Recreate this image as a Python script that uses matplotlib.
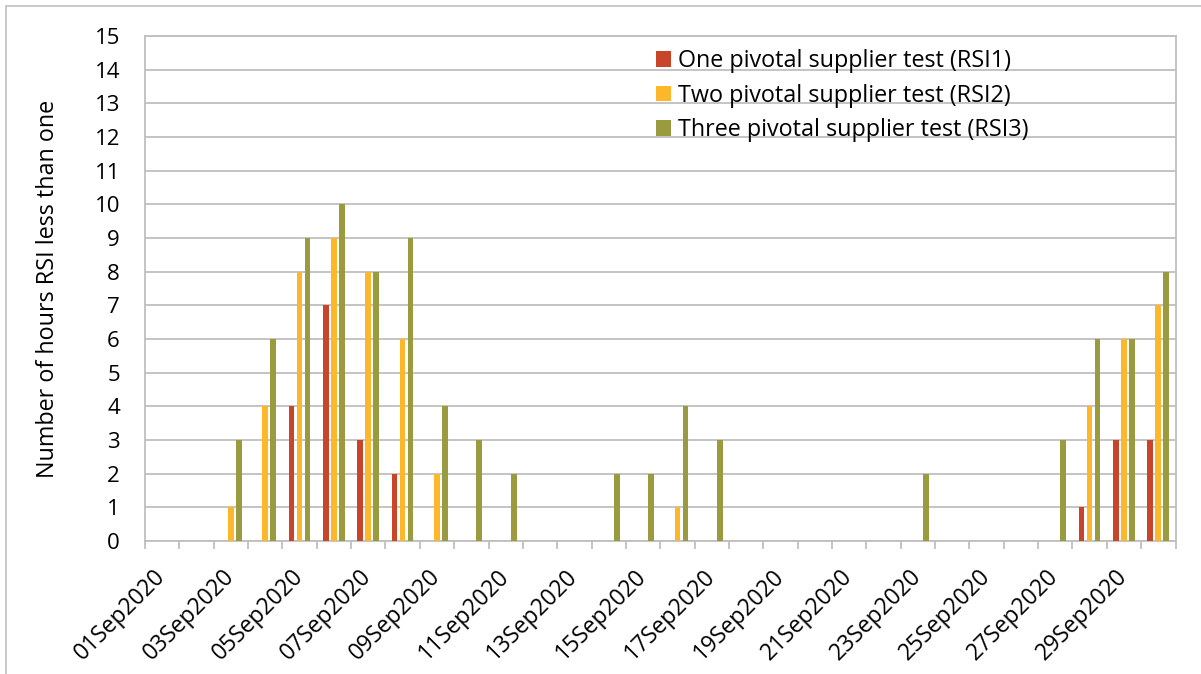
import numpy as np
import matplotlib
matplotlib.use("Agg")
import matplotlib.pyplot as plt
from matplotlib.patches import Rectangle
from matplotlib.ticker import FixedLocator

plt.rcParams["font.family"] = ["Open Sans", "DejaVu Sans"]

# data: number of hours per day with RSI < 1, September 2020
days = [f"{d:02d}Sep2020" for d in range(1, 31)]
rsi1 = [0, 0, 0, 0, 4, 7, 3, 2, 0, 0, 0, 0, 0, 0, 0,
        0, 0, 0, 0, 0, 0, 0, 0, 0, 0, 0, 0, 1, 3, 3]
rsi2 = [0, 0, 1, 4, 8, 9, 8, 6, 2, 0, 0, 0, 0, 0, 0,
        1, 0, 0, 0, 0, 0, 0, 0, 0, 0, 0, 0, 4, 6, 7]
rsi3 = [0, 0, 3, 6, 9, 10, 8, 9, 4, 3, 2, 0, 0, 2, 2,
        4, 3, 0, 0, 0, 0, 0, 2, 0, 0, 0, 3, 6, 6, 8]
series_names = ["One pivotal supplier test (RSI1)",
                "Two pivotal supplier test (RSI2)",
                "Three pivotal supplier test (RSI3)"]
colors = ["#C8452A", "#FDB72B", "#9A9B3E"]

grid_c = "#BFBFBF"
fs_tick = 16
fs_text = 16.8

fig = plt.figure(figsize=(12.01, 6.74), dpi=100, facecolor="white")
# outer chart border
fig.patches.append(Rectangle((6 / 1201, -0.1), 1.2, 1 - 6 / 674 + 0.1,
                             transform=fig.transFigure, fill=False,
                             edgecolor="#BFBFBF", lw=1.2))

ax = fig.add_axes([145 / 1201, 1 - 541 / 674, 1030.5 / 1201, 505 / 674])

x = np.arange(len(days))
offsets = [-0.233, 0.0, 0.233]
for vals, off, col, name in zip([rsi1, rsi2, rsi3], offsets, colors, series_names):
    ax.bar(x + off, vals, width=0.165, color=col, label=name, zorder=3)

ax.set_xlim(-0.5, len(days) - 0.5)
ax.set_ylim(0, 15)
ax.set_yticks(range(0, 16))
ax.tick_params(axis="y", length=0, pad=18, labelsize=fs_tick)
ax.yaxis.grid(True, color=grid_c, lw=1.3, zorder=0)

ax.set_xticks(x[::2])
ax.set_xticklabels(days[::2], rotation=45, ha="right", va="center",
                   rotation_mode="anchor", fontsize=16.5)
ax.tick_params(axis="x", which="major", length=0, pad=23)
ax.xaxis.set_minor_locator(FixedLocator(np.arange(-0.5, len(days), 1.0)))
ax.tick_params(axis="x", which="minor", length=6, width=1.3, color=grid_c)

for s in ax.spines.values():
    s.set_color(grid_c)
    s.set_linewidth(1.3)

ax.set_ylabel("Number of hours RSI less than one", fontsize=fs_text, labelpad=25)

leg = ax.legend(loc="upper left", bbox_to_anchor=(656 / 1201, 1 - 49 / 674),
                bbox_transform=fig.transFigure, frameon=False, fontsize=fs_text,
                borderpad=0, borderaxespad=0, handlelength=0.65,
                handleheight=0.65, handletextpad=0.3, labelspacing=0.46)

fig.savefig("out.png", dpi=100, facecolor="white")
